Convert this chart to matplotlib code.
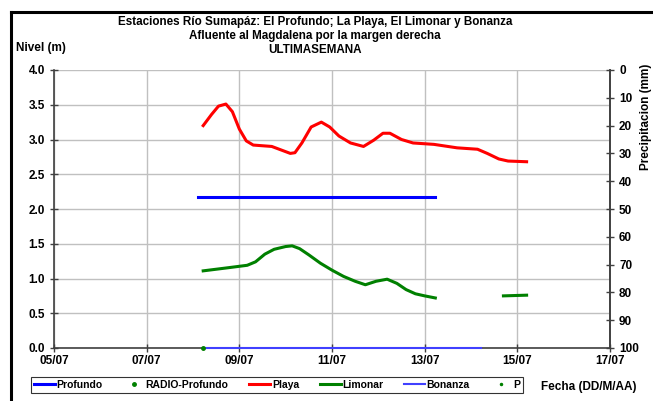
import numpy as np
import matplotlib.pyplot as plt
from matplotlib.lines import Line2D

plt.rcParams['font.family'] = ['Liberation Sans', 'DejaVu Sans']
plt.rcParams['font.weight'] = 'bold'

# days counted from 05/07 00:00
playa_t = [3.22, 3.4, 3.55, 3.71, 3.85, 4.0, 4.15, 4.3, 4.5, 4.7, 4.9, 5.1, 5.2, 5.35, 5.55, 5.77, 5.95, 6.15,
           6.4, 6.68, 6.9, 7.1, 7.25, 7.5, 7.75, 8.2, 8.7, 9.14, 9.35, 9.6, 9.8, 10.2]
playa_y = [3.20, 3.36, 3.48, 3.51, 3.40, 3.15, 2.98, 2.92, 2.91, 2.90, 2.85, 2.80, 2.81, 2.95, 3.18, 3.25, 3.18,
           3.05, 2.95, 2.90, 2.99, 3.09, 3.09, 3.00, 2.95, 2.93, 2.88, 2.86, 2.80, 2.72, 2.69, 2.68]

profundo_t = [3.11, 7.04, np.nan, 7.10, 8.23]
profundo_y = [2.17, 2.17, np.nan, 2.17, 2.17]

limonar_t = [3.22, 3.7, 4.17, 4.35, 4.55, 4.75, 5.0, 5.14, 5.3, 5.5, 5.75, 6.0, 6.25, 6.5, 6.72, 6.95, 7.19,
             7.4, 7.6, 7.8, 8.0, 8.23, np.nan, 9.7, 10.2]
limonar_y = [1.11, 1.15, 1.19, 1.24, 1.35, 1.42, 1.46, 1.47, 1.43, 1.34, 1.22, 1.12, 1.03, 0.96, 0.91, 0.96, 0.99,
             0.93, 0.84, 0.78, 0.75, 0.72, np.nan, 0.75, 0.76]

bonanza_t = [3.22, 9.22]
bonanza_y = [0.0, 0.0]

radio_t = [3.22]
radio_y = [0.0]

xticks = [0, 2, 4, 6, 8, 10, 12]
xlabels = ['05/07', '07/07', '09/07', '11/07', '13/07', '15/07', '17/07']

fig = plt.figure(figsize=(6.53, 4.01), dpi=100)
ax = fig.add_axes([54 / 653, 1 - 348 / 401, (610 - 54) / 653, (348 - 70) / 401])

ax.plot(profundo_t, profundo_y, color='#0000FF', lw=2.2, label='Profundo')
ax.plot(radio_t, radio_y, 'o', color='#008000', ms=2.5, label='RADIO-Profundo', clip_on=False, zorder=5)
ax.plot(playa_t, playa_y, color='#FF0000', lw=2.2, label='Playa')
ax.plot(limonar_t, limonar_y, color='#008000', lw=2.2, label='Limonar')
ax.plot(bonanza_t, bonanza_y, color='#4040FF', lw=1.5, label='Bonanza', clip_on=False, zorder=4)
ax.plot([], [], 'o', color='#008000', ms=1.5, label='P')

ax.set_xlim(0, 12)
ax.set_ylim(0, 4)
ax.set_xticks(xticks)
ax.set_xticklabels(xlabels)
ax.set_yticks(np.arange(0, 4.01, 0.5))
ax.set_yticklabels(['%.1f' % v for v in np.arange(0, 4.01, 0.5)])
ax.grid(True, color='#C0C0C0', lw=1)
ax.tick_params(labelsize=8.5, direction='inout', length=6, color='#404040', width=1)
ax.tick_params(axis='x', pad=2)
ax.spines['top'].set_visible(False)
for s in ['left', 'bottom', 'right']:
    ax.spines[s].set_color('#404040')
    ax.spines[s].set_linewidth(1.2)

ax2 = ax.twinx()
ax2.set_ylim(100, 0)
ax2.set_yticks(np.arange(0, 101, 10))
ax2.tick_params(labelsize=8.5, direction='inout', length=6, color='#404040', width=1)
for s in ['top', 'left', 'bottom']:
    ax2.spines[s].set_visible(False)
ax2.spines['right'].set_color('#404040')
ax2.spines['right'].set_linewidth(1.2)

fig.text(315 / 653, 1 - 22 / 401, 'Estaciones Río Sumapáz: El Profundo; La Playa, El Limonar y Bonanza',
         ha='center', va='center', fontsize=8.4, weight='bold')
fig.text(315 / 653, 1 - 36 / 401, 'Afluente al Magdalena por la margen derecha',
         ha='center', va='center', fontsize=8.4, weight='bold')
fig.text(315 / 653, 1 - 50 / 401, 'ULTIMASEMANA', ha='center', va='center', fontsize=8.4, weight='bold')
fig.text(16 / 653, 1 - 48 / 401, 'Nivel (m)', ha='left', va='center', fontsize=8.5, weight='bold')
fig.text(541 / 653, 1 - 387 / 401, 'Fecha (DD/M/AA)', ha='left', va='center', fontsize=8.5, weight='bold')
fig.text(646 / 653, 1 - 117 / 401, 'Precipitacion (mm)', ha='center', va='center', rotation=90,
         fontsize=8.5, weight='bold')

leg = fig.legend(loc='center', bbox_to_anchor=(277 / 653, 1 - 385 / 401), ncol=6, fontsize=7.5,
                 frameon=True, fancybox=False, handlelength=2.0, handletextpad=0.15,
                 columnspacing=2.0, borderpad=0.3, markerscale=1.0)
leg.get_frame().set_edgecolor('black')
leg.get_frame().set_linewidth(0.8)

# outer chart frame (cropped at right and bottom)
fig.add_artist(Line2D([11 / 653, 11 / 653], [0, 1 - 11.5 / 401], color='black', lw=2.2, transform=fig.transFigure))
fig.add_artist(Line2D([11 / 653, 1], [1 - 11.5 / 401, 1 - 11.5 / 401], color='black', lw=2.2, transform=fig.transFigure))

fig.savefig('out.png', dpi=100)
